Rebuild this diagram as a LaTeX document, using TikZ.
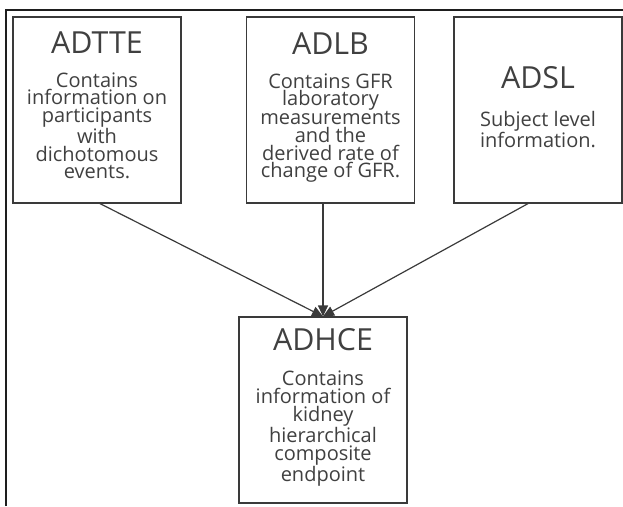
\documentclass[tikz,border=0pt]{standalone}
\usepackage{fontspec}
\setmainfont{Open Sans}
\usetikzlibrary{arrows.meta}
\definecolor{boxline}{HTML}{3A3A3A}
\definecolor{txt}{HTML}{404040}
\definecolor{frameline}{HTML}{1E1E1E}
\newcommand{\ttlfont}{\fontsize{30.4}{32}\selectfont}
\newcommand{\bdyfont}{\fontsize{20}{17.7}\selectfont}
\newcommand{\lastdepth}[1]{\rule[-#1]{0pt}{#1}}
\begin{document}
\begin{tikzpicture}[x=1pt,y=-1pt,
  dsbox/.style={draw=boxline, line width=1.2pt, minimum width=168pt, minimum height=186pt,
    align=center, text=txt, inner sep=0pt, font=\bdyfont},
  link/.style={draw=boxline, line width=1.2pt, -{Triangle[width=10pt,length=11pt]}}]
\useasboundingbox (0,0) rectangle (623,506);
\draw[frameline, line width=1.8pt] (6,506) -- (6,10) -- (623,10);
\node[dsbox] (adtte) at (97,110) {{\ttlfont ADTTE}\\[15.6pt]Contains\\information on\\participants\\with\\dichotomous\\events.\lastdepth{9pt}};
\node[dsbox] (adlb) at (330.5,110) {{\ttlfont ADLB}\\[16.3pt]Contains GFR\\laboratory\\measurements\\and the\\derived rate of\\change of GFR.\lastdepth{10pt}};
\node[dsbox] (adsl) at (538,110) {{\ttlfont ADSL}\\[20.3pt]Subject level\\information.\lastdepth{6pt}};
\node[dsbox] (adhce) at (323,410) {{\ttlfont ADHCE}\\[17.3pt]Contains\\information of\\kidney\\hierarchical\\composite\\endpoint\lastdepth{10pt}};
\draw[link] (adtte.south) ++(3,0) -- (adhce.north);
\draw[link] (adlb.south -| adhce.north) -- (adhce.north);
\draw[link] (adsl.south) ++(-10,0) -- (adhce.north);
\end{tikzpicture}
\end{document}
